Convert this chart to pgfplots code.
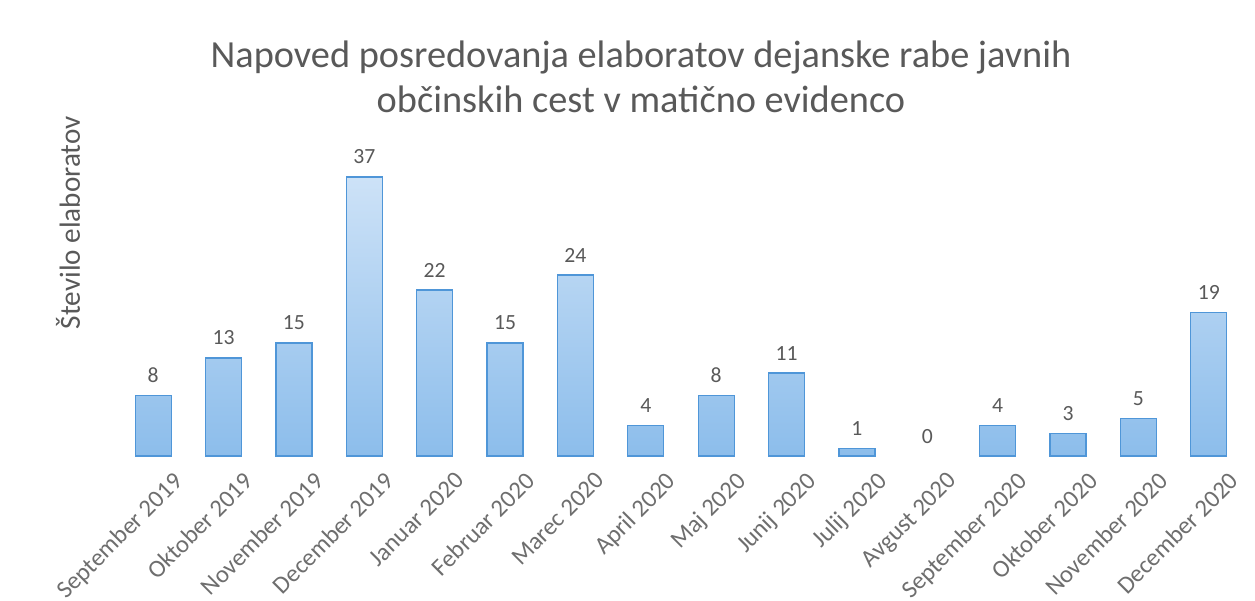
\documentclass[border=0pt]{standalone}
\usepackage{pgfplots}
\pgfplotsset{compat=1.18}
\usepackage{fontspec}
\setmainfont{Carlito}
\definecolor{txt}{HTML}{595959}
\definecolor{ticktxt}{HTML}{6E6E6E}
\definecolor{barline}{HTML}{4F96D8}
\definecolor{bartop}{HTML}{CDE2F7}
\definecolor{barbot}{HTML}{8CBDEB}
\begin{document}
\begin{tikzpicture}
\begin{axis}[
  at={(0,0)}, anchor=south west,
  scale only axis,
  width=675.6pt, height=181pt,
  xmin=-0.5, xmax=15.5, ymin=0, ymax=40,
  axis line style={draw=none},
  /pgf/number format/assume math mode=true,
  ytick=\empty,
  xtick={0,...,15},
  xticklabels={September 2019,Oktober 2019,November 2019,December 2019,Januar 2020,Februar 2020,Marec 2020,April 2020,Maj 2020,Junij 2020,Julij 2020,Avgust 2020,September 2020,Oktober 2020,November 2020,December 2020},
  x tick label style={rotate=45, anchor=north east, font=\fontsize{14.8}{17}\selectfont, text=ticktxt, inner sep=1pt, yshift=-13pt, xshift=3pt},
  major tick length=0pt,
  every node near coord/.append style={font=\fontsize{13}{15}\selectfont, text=txt, yshift=4pt},
  clip=false,
]
\addplot[ybar, bar width=21.6pt, draw=barline, line width=0.8pt, top color=bartop, bottom color=barbot, nodes near coords]
coordinates {(0,8) (1,13) (2,15) (3,37) (4,22) (5,15) (6,24) (7,4) (8,8) (9,11) (10,1) (12,4) (13,3) (14,5) (15,19)};
\addplot[ybar, bar width=21.6pt, draw=none, fill=none, nodes near coords]
coordinates {(11,0)};
\end{axis}
\node[text=txt, align=center, font=\fontsize{23}{27}\selectfont] at (313.8pt,227.4pt) {Napoved posredovanja elaboratov dejanske rabe javnih\\občinskih cest v matično evidenco};
\node[text=txt, rotate=90, font=\fontsize{17.5}{20}\selectfont] at (-30pt,140pt) {Število elaboratov};
\pgfresetboundingbox
\path[use as bounding box] (-70.8pt,-87pt) rectangle (682.2pt,273.6pt);
\end{tikzpicture}
\end{document}
